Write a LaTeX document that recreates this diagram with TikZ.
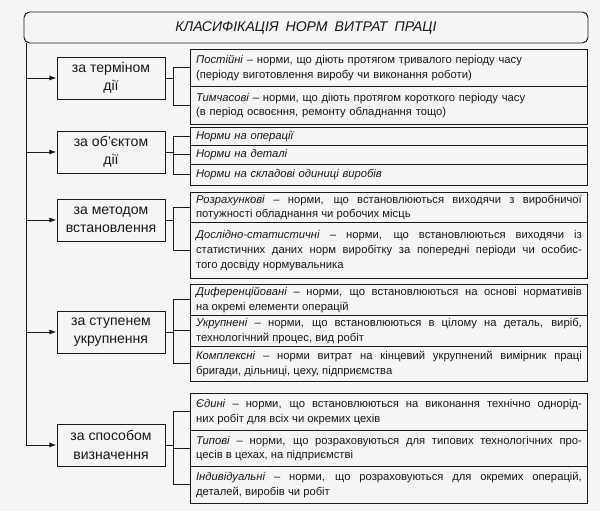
\documentclass[tikz,border=0pt]{standalone}
\usepackage{fontspec}
\setmainfont{Liberation Sans}
\usetikzlibrary{arrows.meta}
\newlength\pxl
\setlength\pxl{0.025cm}
\newlength\normw
\setlength\normw{\dimexpr 397\pxl-8pt\relax}
\newcommand\nx{190}
\newcommand\kx{111}
\hyphenpenalty=10000
\exhyphenpenalty=10000
\tikzset{
	kind/.style={draw, minimum width=108\pxl, minimum height=42\pxl, inner sep=1pt, align=center, font=\fontsize{10}{13}\selectfont},
	norm/.style={draw, anchor=north west, text width=\normw, inner xsep=4pt, inner ysep=1pt, align=justify, font=\fontsize{8}{10.5}\selectfont},
	link/.style={-{Latex[length=5pt,width=3.5pt]}},
}
\begin{document}
\begin{tikzpicture}[x=0.025cm, y=-0.025cm, line width=0.7pt, color=black!90]
\fill[black!4] (0,0) rectangle (600,511);
\useasboundingbox (0,0) rectangle (600,511);
\node[draw, rounded corners=4pt, minimum width=564\pxl, minimum height=31\pxl, font=\fontsize{10}{12}\selectfont\itshape] (title) at (306,27.5) {КЛАСИФІКАЦІЯ\enspace НОРМ\enspace ВИТРАТ\enspace ПРАЦІ};
\foreach \n/\y/\t in {k1/78/{за терміном\\дії}, k2/152/{за об'єктом\\дії}, k3/220/{за методом\\встановлення}, k4/332/{за ступенем\\укрупнення}, k5/445/{за способом\\визначення}} {
	\node[kind] (\n) at (\kx,\y) {\t};
}
% norm boxes
\node[norm, align=left, minimum height=37\pxl] (n11) at (\nx,49) {\textit{Постійні} – норми, що діють протягом тривалого періоду часу\\(періоду виготовлення виробу чи виконання роботи)};
\node[norm, align=left, minimum height=38\pxl] (n12) at (\nx,86) {\textit{Тимчасові} – норми, що діють протягом короткого періоду часу\\(в період освоєння, ремонту обладнання тощо)};
\node[norm, align=left, minimum height=18\pxl] (n21) at (\nx,127) {\textit{Норми на операції}};
\node[norm, align=left, minimum height=19\pxl] (n22) at (\nx,145) {\textit{Норми на деталі}};
\node[norm, align=left, minimum height=21\pxl] (n23) at (\nx,164) {\textit{Норми на складові одиниці виробів}};
\node[norm, minimum height=30\pxl] (n31) at (\nx,192) {\textit{Розрахункові} – норми, що встановлюються виходячи з виробничої \linebreak потужності обладнання чи робочих місць};
\node[norm, minimum height=56\pxl] (n32) at (\nx,222) {\textit{Дослідно-статистичні} – норми, що встановлюються виходячи із \linebreak статистичних даних норм виробітку за попередні періоди чи особис-\linebreak того досвіду нормувальника};
\node[norm, minimum height=31\pxl] (n41) at (\nx,284) {\textit{Диференційовані} – норми, що встановлюються на основі нормативів \linebreak на окремі елементи операцій};
\node[norm, minimum height=31\pxl] (n42) at (\nx,315) {\textit{Укрупнені} – норми, що встановлюються в цілому на деталь, виріб, \linebreak технологічний процес, вид робіт};
\node[norm, minimum height=35\pxl] (n43) at (\nx,346) {\textit{Комплексні} – норми витрат на кінцевий укрупнений вимірник праці \linebreak бригади, дільниці, цеху, підприємства};
\node[norm, minimum height=37\pxl] (n51) at (\nx,393) {\textit{Єдині} – норми, що встановлюються на виконання технічно однорід-\linebreak них робіт для всіх чи окремих цехів};
\node[norm, minimum height=36\pxl] (n52) at (\nx,430) {\textit{Типові} – норми, що розраховуються для типових технологічних про-\linebreak цесів в цехах, на підприємстві};
\node[norm, minimum height=37\pxl] (n53) at (\nx,466) {\textit{Індивідуальні} – норми, що розраховуються для окремих операцій, \linebreak деталей, виробів чи робіт};
% trunk and brackets
\coordinate (trunk) at (26,0);
\draw (title.south -| trunk) -- (k5.west -| trunk);
\foreach \k/\a/\b in {k1/n11/n12, k2/n21/n23, k3/n31/n32, k4/n41/n43, k5/n51/n53} {
	\draw[link] (\k.west -| trunk) -- (\k.west);
	\draw (\k.east) -- ++(8,0) coordinate (j\k);
	\draw (\a.west) -| (j\k) |- (\b.west);
}
\foreach \m/\k in {n22/k2, n42/k4, n52/k5} {
	\draw (\m.west) -- (\m.west -| j\k);
}
\end{tikzpicture}
\end{document}
